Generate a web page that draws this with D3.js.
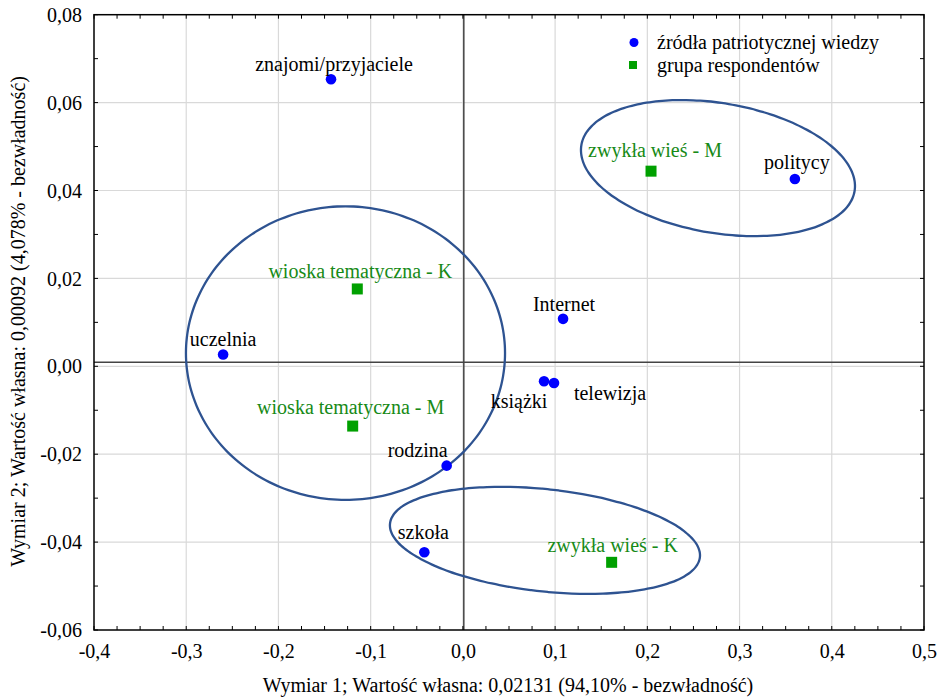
<!DOCTYPE html>
<html><head><meta charset="utf-8">
<script src="https://cdn.jsdelivr.net/npm/d3@7"></script>
<style>body{margin:0;background:#fff}svg{display:block}text{font-family:"Liberation Serif","Times New Roman",serif}</style>
</head><body><svg id="c" width="939" height="700"></svg>
<script>
// ---- data ----
const sourceNames = ["znajomi/przyjaciele","politycy","Internet","uczelnia","książki","telewizja","rodzina","szkoła"];
const sourceX = [-0.143, 0.360, 0.1086, -0.260, 0.088, 0.0988, -0.0176, -0.0418];
const sourceY = [0.0653, 0.0426, 0.0108, 0.0027, -0.0034, -0.0038, -0.0226, -0.0423];
const groupNames = ["zwykła wieś - M","wioska tematyczna - K","wioska tematyczna - M","zwykła wieś - K"];
const groupX = [0.204, -0.1145, -0.1195, 0.1613];
const groupY = [0.0444, 0.0176, -0.0136, -0.0446];
const xTicks = [-0.4,-0.3,-0.2,-0.1,0.0,0.1,0.2,0.3,0.4,0.5];
const xTickLabels = ["-0,4","-0,3","-0,2","-0,1","0,0","0,1","0,2","0,3","0,4","0,5"];
const yTicks = [-0.06,-0.04,-0.02,0.00,0.02,0.04,0.06,0.08];
const yTickLabels = ["-0,06","-0,04","-0,02","0,00","0,02","0,04","0,06","0,08"];
const legendLabels = ["źródła patriotycznej wiedzy","grupa respondentów"];
const xTitle = "Wymiar 1; Wartość własna: 0,02131 (94,10% - bezwładność)";
const yTitle = "Wymiar 2; Wartość własna: 0,00092 (4,078% - bezwładność)";
// ellipses: centre and semi-axes in data units, rotation (deg, screen)
const ellipseCX = [-0.1273, 0.2766, 0.089];
const ellipseCY = [0.003, 0.0451, -0.0396];
const ellipseRX = [0.173, 0.1502, 0.169];
const ellipseRY = [0.0334, 0.01477, 0.01163];
const ellipseRot = [0, 9.6, 6.2];

// ---- layout ----
const L = 94, R = 924, T = 14.7, B = 630, FS = 20;
const x = d3.scaleLinear().domain([-0.4, 0.5]).range([L, R]);
const y = d3.scaleLinear().domain([-0.06, 0.08]).range([B, T]);
const svg = d3.select("#c");

// label placement offsets (px, relative to point): dx, dy (baseline)
const srcOff = [[3,-8],[2,-10],[1,-8],[0,-8],[-25,27],[56,17],[-29,-9],[-1,-13]];
const grpOff = [[4,-14],[3,-11],[-2,-12],[1,-10]];

// gridlines
svg.append("g").selectAll("line").data(xTicks.slice(1,-1)).join("line")
  .attr("x1", d=>x(d)).attr("x2", d=>x(d)).attr("y1", T).attr("y2", B)
  .attr("stroke", "#d9d9d9").attr("stroke-width", 1.2);
svg.append("g").selectAll("line").data(yTicks.slice(1,-1)).join("line")
  .attr("y1", d=>y(d)).attr("y2", d=>y(d)).attr("x1", L).attr("x2", R)
  .attr("stroke", "#d9d9d9").attr("stroke-width", 1.2);

// origin lines
svg.append("line").attr("x1", x(0.001)).attr("x2", x(0.001)).attr("y1", T).attr("y2", B)
  .attr("stroke", "#444").attr("stroke-width", 1.5);
svg.append("line").attr("y1", y(0.0009)).attr("y2", y(0.0009)).attr("x1", L).attr("x2", R)
  .attr("stroke", "#444").attr("stroke-width", 1.5);

// inward ticks on all four sides
const xMinor = d3.range(-0.4, 0.5001, 0.025);
const yMinor = d3.range(-0.06, 0.08001, 0.01);
function ticksAt(vals, horiz, pos, dir, len){
  svg.append("g").selectAll("line").data(vals).join("line")
    .attr("x1", d=> horiz ? x(d) : pos).attr("x2", d=> horiz ? x(d) : pos + dir*len)
    .attr("y1", d=> horiz ? pos : y(d)).attr("y2", d=> horiz ? pos + dir*len : y(d))
    .attr("stroke", "#000").attr("stroke-width", 1);
}
ticksAt(xMinor, true, B, -1, 4);
ticksAt(xMinor, true, T, 1, 4);
ticksAt(yMinor, false, L, 1, 4);
ticksAt(yMinor, false, R, -1, 4);

// frame
svg.append("rect").attr("x", L).attr("y", T).attr("width", R-L).attr("height", B-T)
  .attr("fill", "none").attr("stroke", "#000").attr("stroke-width", 1.5);

// tick labels via axis generators (lines hidden)
const gx = svg.append("g").attr("transform", `translate(0,${B})`)
  .call(d3.axisBottom(x).tickValues(xTicks).tickFormat((d,i)=>xTickLabels[i]).tickSize(0).tickPadding(0));
gx.attr("font-family", null).attr("font-size", null);
gx.select(".domain").remove();
gx.selectAll("text").style("font-size", FS+"px").attr("fill", "#000").attr("dy", null).attr("y", 28);
const gy = svg.append("g").attr("transform", `translate(${L},0)`)
  .call(d3.axisLeft(y).tickValues(yTicks).tickFormat((d,i)=>yTickLabels[i]).tickSize(0).tickPadding(0));
gy.attr("font-family", null).attr("font-size", null);
gy.select(".domain").remove();
gy.selectAll("text").style("font-size", FS+"px").attr("fill", "#000").attr("x", -12).attr("dy", "0.33em");

// axis titles
svg.append("text").attr("x", 508).attr("y", 692).attr("text-anchor", "middle")
  .style("font-size", FS+"px").text(xTitle);
svg.append("text").attr("transform", `translate(25,${(T+B)/2 - 1}) rotate(-90)`).attr("text-anchor", "middle")
  .style("font-size", FS+"px").text(yTitle);

// ellipses
ellipseCX.forEach((cx, i) => {
  const pcx = x(cx), pcy = y(ellipseCY[i]);
  const a = x(cx + ellipseRX[i]) - pcx, b = pcy - y(ellipseCY[i] + ellipseRY[i]);
  const th = ellipseRot[i] * Math.PI / 180;
  const pts = d3.range(0, 360, 3).map(t => {
    const r = t*Math.PI/180, ex = a*Math.cos(r), ey = b*Math.sin(r);
    return [pcx + ex*Math.cos(th) - ey*Math.sin(th), pcy + ex*Math.sin(th) + ey*Math.cos(th)];
  });
  svg.append("path").attr("d", d3.line().curve(d3.curveCardinalClosed)(pts))
    .attr("fill", "none").attr("stroke", "#2e5391").attr("stroke-width", 2.3);
});

// points & labels
const blue = "#0000ff", green = "#00a000", greenText = "#178a17";
sourceNames.forEach((n, i) => {
  svg.append("circle").attr("cx", x(sourceX[i])).attr("cy", y(sourceY[i])).attr("r", 5.3).attr("fill", blue);
  svg.append("text").attr("x", x(sourceX[i]) + srcOff[i][0]).attr("y", y(sourceY[i]) + srcOff[i][1])
    .attr("text-anchor", "middle").style("font-size", FS+"px").attr("fill", "#000").text(n);
});
groupNames.forEach((n, i) => {
  svg.append("rect").attr("x", x(groupX[i]) - 5.5).attr("y", y(groupY[i]) - 5.5).attr("width", 11).attr("height", 11).attr("fill", green);
  svg.append("text").attr("x", x(groupX[i]) + grpOff[i][0]).attr("y", y(groupY[i]) + grpOff[i][1])
    .attr("text-anchor", "middle").style("font-size", FS+"px").attr("fill", greenText).text(n);
});

// legend
svg.append("circle").attr("cx", 634).attr("cy", 42.5).attr("r", 4.5).attr("fill", blue);
svg.append("rect").attr("x", 629).attr("y", 61).attr("width", 8).attr("height", 8).attr("fill", green);
svg.append("text").attr("x", 657).attr("y", 49).style("font-size", FS+"px").text(legendLabels[0]);
svg.append("text").attr("x", 657).attr("y", 72).style("font-size", FS+"px").text(legendLabels[1]);
</script></body></html>
